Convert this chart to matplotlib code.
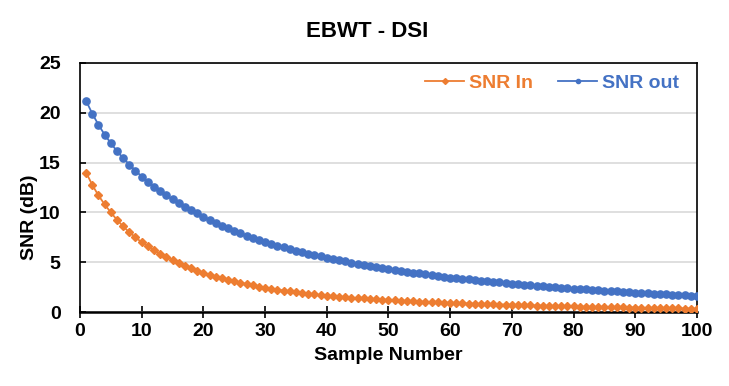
import matplotlib
matplotlib.use("Agg")
import matplotlib.pyplot as plt

# sample index 1..100
samples = list(range(1, 101))

snr_in = [
    14.0, 12.75, 11.7, 10.8, 10.0, 9.25, 8.6, 8.0, 7.5, 7.0,
    6.6, 6.2, 5.85, 5.55, 5.2, 4.9, 4.62, 4.37, 4.13, 3.92,
    3.74, 3.56, 3.39, 3.23, 3.07, 2.94, 2.81, 2.68, 2.56, 2.45,
    2.35, 2.25, 2.15, 2.06, 1.98, 1.90, 1.83, 1.76, 1.69, 1.63,
    1.58, 1.53, 1.49, 1.44, 1.40, 1.36, 1.32, 1.29, 1.25, 1.22,
    1.18, 1.15, 1.11, 1.08, 1.05, 1.02, 0.99, 0.97, 0.94, 0.92,
    0.90, 0.87, 0.85, 0.83, 0.81, 0.79, 0.77, 0.75, 0.74, 0.72,
    0.70, 0.68, 0.66, 0.65, 0.63, 0.62, 0.60, 0.59, 0.57, 0.56,
    0.54, 0.53, 0.52, 0.50, 0.49, 0.48, 0.47, 0.46, 0.45, 0.44,
    0.43, 0.41, 0.40, 0.39, 0.38, 0.37, 0.36, 0.35, 0.34, 0.33,
]

snr_out = [
    21.2, 19.9, 18.8, 17.8, 16.95, 16.15, 15.45, 14.8, 14.2, 13.6,
    13.05, 12.6, 12.15, 11.7, 11.3, 10.9, 10.55, 10.2, 9.9, 9.55,
    9.25, 8.95, 8.67, 8.4, 8.15, 7.9, 7.67, 7.45, 7.25, 7.05,
    6.86, 6.67, 6.5, 6.33, 6.17, 6.02, 5.87, 5.73, 5.59, 5.46,
    5.33, 5.21, 5.09, 4.97, 4.86, 4.75, 4.64, 4.53, 4.42, 4.31,
    4.22, 4.13, 4.04, 3.95, 3.87, 3.79, 3.71, 3.64, 3.54, 3.46,
    3.40, 3.34, 3.28, 3.22, 3.16, 3.10, 3.04, 2.98, 2.92, 2.86,
    2.81, 2.76, 2.71, 2.66, 2.60, 2.55, 2.50, 2.45, 2.39, 2.34,
    2.30, 2.26, 2.22, 2.18, 2.14, 2.10, 2.06, 2.02, 1.98, 1.95,
    1.92, 1.88, 1.85, 1.82, 1.78, 1.75, 1.72, 1.68, 1.65, 1.62,
]

series_names = ["SNR In", "SNR out"]
x_ticks = list(range(0, 101, 10))
y_ticks = list(range(0, 26, 5))

ORANGE = "#ED7D31"
BLUE = "#4472C4"

plt.rcParams["font.family"] = ["Liberation Sans", "DejaVu Sans"]
plt.rcParams["font.weight"] = "bold"

fig = plt.figure(figsize=(7.29, 3.86), dpi=100)
ax = fig.add_axes([0.1097, 0.1917, 0.8463, 0.6451])

ax.plot(samples, snr_in, color=ORANGE, lw=1.3, marker="D", ms=4.0,
        mec=ORANGE, mfc=ORANGE, label=series_names[0], zorder=3)
ax.plot(samples, snr_out, color=BLUE, lw=1.3, marker="o", ms=5.2,
        mec=BLUE, mfc=BLUE, label=series_names[1], zorder=3)

ax.set_xlim(0, 100)
ax.set_ylim(0, 25)
ax.set_xticks(x_ticks)
ax.set_yticks(y_ticks)
ax.grid(axis="y", color="#d9d9d9", lw=1.2)
ax.set_axisbelow(True)

for side in ["left", "top", "right"]:
    ax.spines[side].set_linewidth(1.2)
    ax.spines[side].set_color("black")
ax.spines["bottom"].set_linewidth(1.8)

ax.tick_params(axis="x", direction="inout", length=8, width=1.2,
               labelsize=14, pad=4)
ax.tick_params(axis="y", direction="in", length=4, width=1.2,
               labelsize=14, pad=14)
for lbl in ax.get_xticklabels() + ax.get_yticklabels():
    lbl.set_fontweight("bold")

ax.set_xlabel("Sample Number", fontsize=14, fontweight="bold", labelpad=5)
ax.set_ylabel("SNR (dB)", fontsize=14, fontweight="bold")
ax.yaxis.set_label_coords(-0.068, 0.38)
fig.suptitle("EBWT - DSI", fontsize=16, fontweight="bold", x=0.503, y=0.945)

leg = ax.legend(loc="upper right", ncol=2, frameon=False, fontsize=14,
                handlelength=2.0, handletextpad=0.25, columnspacing=1.3,
                borderaxespad=0.2, bbox_to_anchor=(0.99, 1.0))
for txt, col in zip(leg.get_texts(), [ORANGE, BLUE]):
    txt.set_color(col)
    txt.set_fontweight("bold")
for h in leg.get_lines():
    h.set_markersize(3)

fig.savefig("out.png", dpi=100)
